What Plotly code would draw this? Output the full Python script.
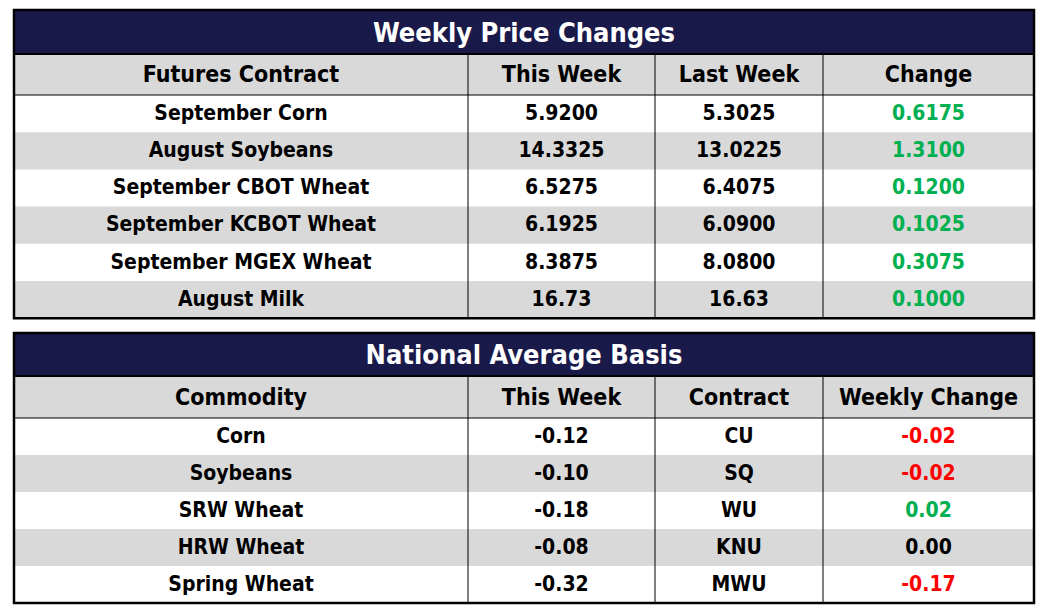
import plotly.graph_objects as go

# ---- data ----
price_title = "Weekly Price Changes"
price_headers = ["Futures Contract", "This Week", "Last Week", "Change"]
price_contracts = ["September Corn", "August Soybeans", "September CBOT Wheat",
                   "September KCBOT Wheat", "September MGEX Wheat", "August Milk"]
price_this_week = ["5.9200", "14.3325", "6.5275", "6.1925", "8.3875", "16.73"]
price_last_week = ["5.3025", "13.0225", "6.4075", "6.0900", "8.0800", "16.63"]
price_change = ["0.6175", "1.3100", "0.1200", "0.1025", "0.3075", "0.1000"]

basis_title = "National Average Basis"
basis_headers = ["Commodity", "This Week", "Contract", "Weekly Change"]
basis_commodity = ["Corn", "Soybeans", "SRW Wheat", "HRW Wheat", "Spring Wheat"]
basis_this_week = ["-0.12", "-0.10", "-0.18", "-0.08", "-0.32"]
basis_contract = ["CU", "SQ", "WU", "KNU", "MWU"]
basis_change = ["-0.02", "-0.02", "0.02", "0.00", "-0.17"]

NAVY = "#1a1a4a"
GRAY = "#d9d9d9"
GREEN = "#00b050"
RED = "#ff0000"
FONT = "DejaVu Sans Condensed, sans-serif"

col_edges = [14, 468, 655, 823, 1034]
col_mid = [(a + b) / 2 for a, b in zip(col_edges[:-1], col_edges[1:])]


def change_color(v):
    f = float(v)
    if f > 0:
        return GREEN
    if f < 0:
        return RED
    return "black"


fig = go.Figure()
shapes = []


def add_table(top, title_h, head_h, row_h, title, headers, columns):
    n = len(columns[0][0])
    head_top = top + title_h
    body_top = head_top + head_h
    bottom = body_top + n * row_h
    left, right = col_edges[0], col_edges[-1]
    # title band
    shapes.append(dict(type="rect", x0=left, x1=right, y0=top, y1=head_top,
                       fillcolor=NAVY, line_width=0, layer="below"))
    # header band
    shapes.append(dict(type="rect", x0=left, x1=right, y0=head_top, y1=body_top,
                       fillcolor=GRAY, line_width=0, layer="below"))
    # striped rows
    for i in range(n):
        if i % 2 == 1:
            shapes.append(dict(type="rect", x0=left, x1=right,
                               y0=body_top + i * row_h, y1=body_top + (i + 1) * row_h,
                               fillcolor=GRAY, line_width=0, layer="below"))
    # vertical separators
    for x in col_edges[1:-1]:
        shapes.append(dict(type="line", x0=x, x1=x, y0=head_top, y1=bottom,
                           line=dict(color="black", width=1)))
    shapes.append(dict(type="line", x0=left, x1=right, y0=head_top, y1=head_top,
                       line=dict(color="black", width=2)))
    shapes.append(dict(type="line", x0=left, x1=right, y0=body_top, y1=body_top,
                       line=dict(color="black", width=1)))
    # outer border
    shapes.append(dict(type="rect", x0=left, x1=right, y0=top, y1=bottom,
                       line=dict(color="black", width=2.5)))

    fig.add_trace(go.Scatter(
        x=[(left + right) / 2], y=[top + title_h / 2 + 3], mode="text", text=[title],
        textfont=dict(family=FONT, size=27, color="white", weight="bold"),
        hoverinfo="skip"))
    fig.add_trace(go.Scatter(
        x=col_mid, y=[head_top + head_h / 2 + 2] * 4, mode="text", text=headers,
        textfont=dict(family=FONT, size=23, color="black", weight="bold"),
        hoverinfo="skip"))
    ys = [body_top + (i + 0.5) * row_h + 1 for i in range(n)]
    for j, (vals, colors) in enumerate(columns):
        fig.add_trace(go.Scatter(
            x=[col_mid[j]] * n, y=ys, mode="text", text=vals,
            textfont=dict(family=FONT, size=21, color=colors, weight="bold"),
            hoverinfo="skip"))


def as_cols(vals):
    return vals, ["black"] * len(vals)


add_table(10, 44, 41, 37.2, price_title, price_headers, [
    as_cols(price_contracts), as_cols(price_this_week), as_cols(price_last_week),
    (price_change, [change_color(v) for v in price_change]),
])
add_table(333, 43, 42, 37.0, basis_title, basis_headers, [
    as_cols(basis_commodity), as_cols(basis_this_week), as_cols(basis_contract),
    (basis_change, [change_color(v) for v in basis_change]),
])

# page body has an 8px margin, so shift the ranges to keep pixel positions
fig.update_layout(
    width=1050, height=614,
    margin=dict(l=0, r=0, t=0, b=0),
    paper_bgcolor="white", plot_bgcolor="white",
    showlegend=False,
    shapes=shapes,
    xaxis=dict(range=[8, 1058], visible=False, fixedrange=True),
    yaxis=dict(range=[622, 8], visible=False, fixedrange=True),
)

fig.write_html("out.html", config={"displayModeBar": False})
